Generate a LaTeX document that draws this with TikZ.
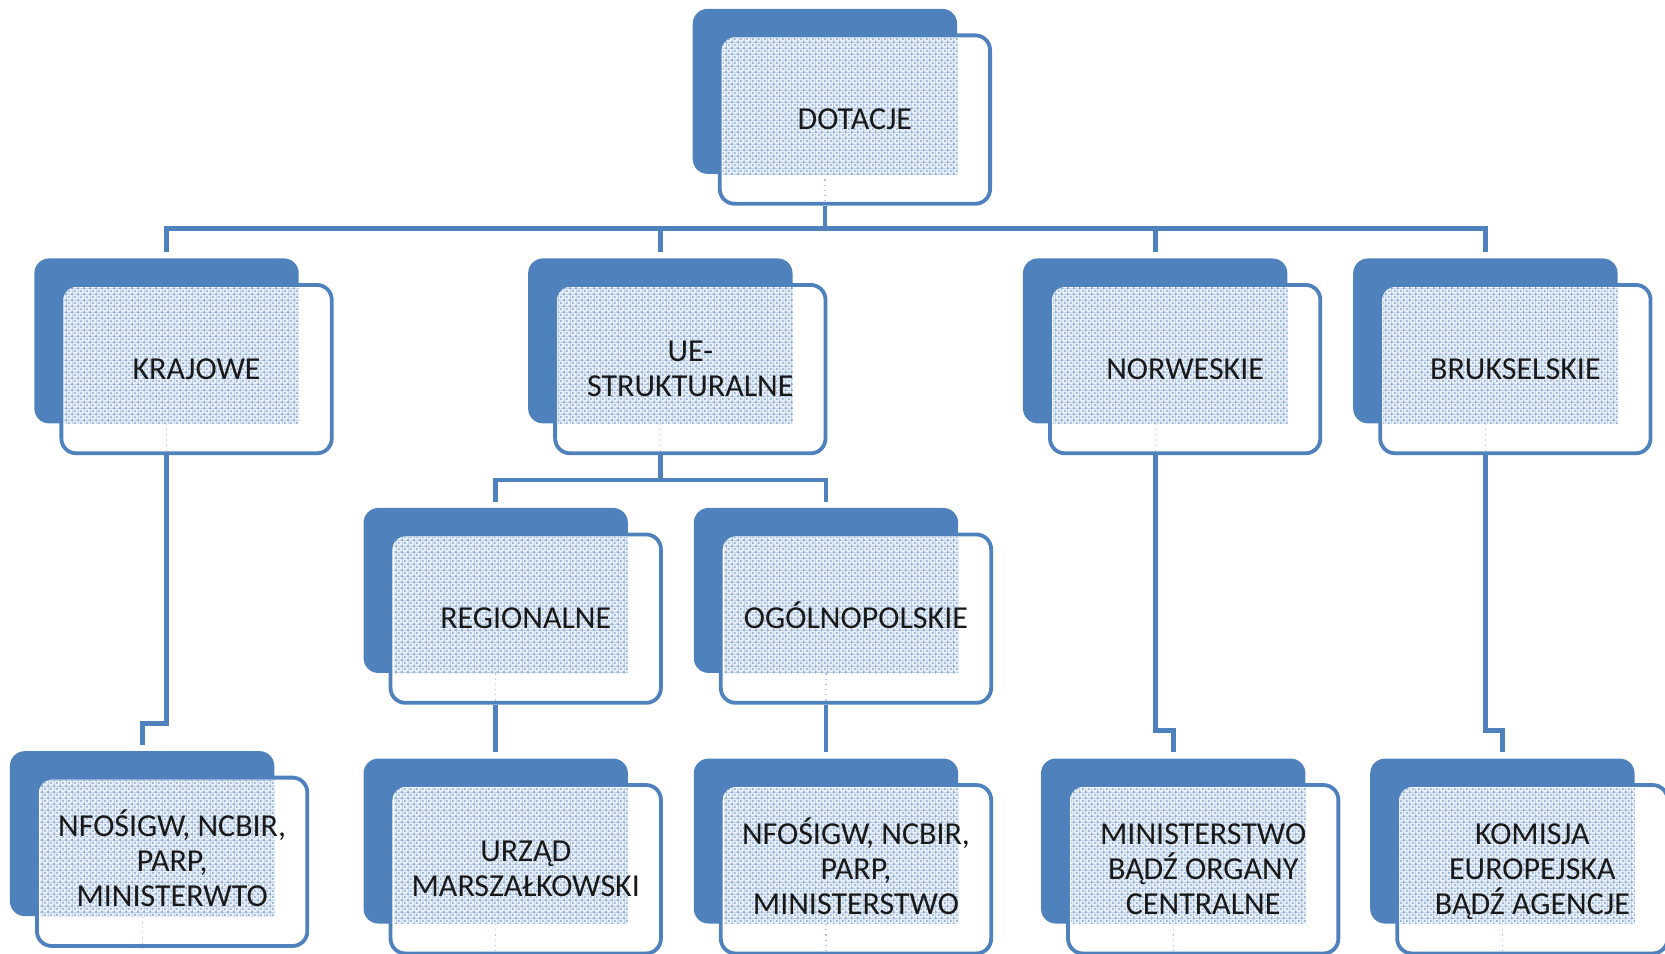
\documentclass[tikz,border=0pt]{standalone}
\usepackage{fontspec}
\setmainfont{Carlito}
\usetikzlibrary{patterns}
\definecolor{ob}{RGB}{79,129,189}
\tikzset{
  backbox/.style={fill=ob, draw=none, rounded corners=7.4pt, minimum width=132.2pt, minimum height=82.5pt, inner sep=0pt, anchor=north west},
  frontbox/.style={fill=white, draw=ob, line width=1.9pt, rounded corners=7.4pt, minimum width=135.2pt, minimum height=84.2pt, inner sep=0pt, anchor=north west},
  lbl/.style={align=center, inner sep=0pt, text=black!90, font=\fontsize{16pt}{17.5pt}\selectfont},
  conn/.style={draw=ob, line width=2.4pt},
  faintdot/.style={draw=ob!45, dotted, line width=0.6pt}
}
\newcommand{\mkbox}[4]{%
  \node[backbox] (#1B) at (#2,#3) {};
  \node[frontbox, path picture={%
      \fill[ob!13, sharp corners] ([xshift=1.5pt,yshift=-1.5pt]path picture bounding box.north west) rectangle (#1B.south east);
      \fill[pattern=grid, pattern color=ob!35, sharp corners] ([xshift=1.5pt,yshift=-1.5pt]path picture bounding box.north west) rectangle (#1B.south east);
      \fill[pattern=crosshatch dots, pattern color=ob!75, sharp corners] ([xshift=1.5pt,yshift=-1.5pt]path picture bounding box.north west) rectangle (#1B.south east);
    }] (#1F) at ([xshift=12.75pt,yshift=-12.5pt]#1B.north west) {};
  \draw[faintdot] (#1B.south) -- (#1B.south |- #1F.south);
  \node[lbl] (#1T) at (#1F.center) {\rule{0pt}{14pt}#4\rule[-4pt]{0pt}{4pt}};
}
\begin{document}
\begin{tikzpicture}[x=0.531pt, y=-0.531pt]
\useasboundingbox (0,0) rectangle (1568,898.4);
\mkbox{dot}{652}{8}{DOTACJE}
\mkbox{kr}{32}{243}{KRAJOWE}
\mkbox{ue}{497}{243}{UE-\\STRUKTURALNE}
\mkbox{no}{963}{243}{NORWESKIE}
\mkbox{bk}{1274}{243}{BRUKSELSKIE}
\mkbox{re}{342}{478}{REGIONALNE}
\mkbox{og}{653}{478}{OGÓLNOPOLSKIE}
\mkbox{na}{9}{707}{NFOŚIGW, NCBIR,\\PARP,\\MINISTERWTO}
\mkbox{ur}{342}{714}{URZĄD\\MARSZAŁKOWSKI}
\mkbox{nb}{653}{714}{NFOŚIGW, NCBIR,\\PARP,\\MINISTERSTWO}
\mkbox{mi}{980}{714}{MINISTERSTWO\\BĄDŹ ORGANY\\CENTRALNE}
\mkbox{ko}{1290}{714}{KOMISJA\\EUROPEJSKA\\BĄDŹ AGENCJE}
\coordinate (busA) at (0,215);
\coordinate (busB) at (0,452);
\coordinate (stepK) at (0,681);
\coordinate (stepN) at (0,688);
% top level
\draw[conn] (dotB.south |- dotF.south) -- (dotB.south |- busA);
\draw[conn] ([yshift=3pt]krB.north) -- (krB.north |- busA) -- (bkB.north |- busA) -- ([yshift=3pt]bkB.north);
\draw[conn] (ueB.north |- busA) -- ([yshift=3pt]ueB.north);
\draw[conn] (noB.north |- busA) -- ([yshift=3pt]noB.north);
% UE branch
\draw[conn] (ueB.south |- ueF.south) -- (ueB.south |- busB);
\draw[conn] ([yshift=3pt]reB.north) -- (reB.north |- busB) -- (ogB.north |- busB) -- ([yshift=3pt]ogB.north);
\draw[conn] (reB.south |- reF.south) -- ([yshift=3pt]reB.south |- urB.north);
\draw[conn] (ogB.south |- ogF.south) -- ([yshift=3pt]ogB.south |- nbB.north);
% stepped connectors
\draw[conn] (krB.south |- krF.south) -- (krB.south |- stepK) -| ([yshift=3pt]naB.north);
\draw[conn] (noB.south |- noF.south) -- (noB.south |- stepN) -| ([yshift=3pt]miB.north);
\draw[conn] (bkB.south |- bkF.south) -- (bkB.south |- stepN) -| ([yshift=3pt]koB.north);
\end{tikzpicture}
\end{document}
